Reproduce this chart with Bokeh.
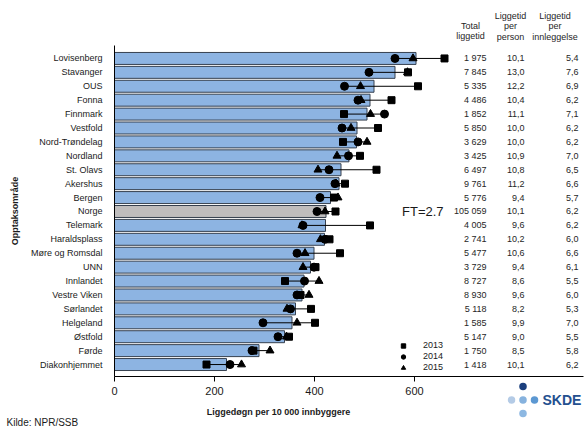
import math
from bokeh.plotting import figure
from bokeh.models import (ColumnDataSource, Range1d, FixedTicker, Label,
                          Legend, LegendItem)
from bokeh.core.properties import value
from bokeh.embed import file_html
from bokeh.resources import INLINE

# ---------------- data ----------------
areas = ["Lovisenberg", "Stavanger", "OUS", "Fonna", "Finnmark", "Vestfold",
         "Nord-Trøndelag", "Nordland", "St. Olavs", "Akershus", "Bergen",
         "Norge", "Telemark", "Haraldsplass", "Møre og Romsdal", "UNN",
         "Innlandet", "Vestre Viken", "Sørlandet", "Helgeland", "Østfold",
         "Førde", "Diakonhjemmet"]
mean_rate = [603, 561, 519, 511, 505, 485, 484, 469, 453, 449, 432, 423, 422,
             420, 399, 392, 379, 375, 362, 355, 340, 289, 224]
rate_2013 = [660, 587, 607, 554, 459, 527, 457, 491, 524, 461, 439, 442, 511,
             430, 451, 402, 341, 372, 393, 401, 349, 278, 184]
rate_2014 = [561, 509, 460, 487, 540, 455, 487, 468, 429, 441, 411, 405, 377,
             421, 365, 399, 380, 365, 352, 297, 327, 275, 231]
rate_2015 = [597, 586, 492, 493, 512, 473, 505, 445, 407, 443, 447, 421, 375,
             412, 381, 377, 409, 389, 345, 365, 344, 311, 254]
total_liggetid = [1975, 7845, 5335, 4486, 1852, 5850, 3629, 3425, 6497, 9761,
                  5776, 105059, 4005, 2741, 5477, 3729, 8727, 8930, 5118, 1585,
                  5147, 1750, 1418]
per_person = [10.1, 13.0, 12.2, 10.4, 11.1, 10.0, 10.0, 10.9, 10.8, 11.2, 9.4,
              10.1, 9.6, 10.2, 10.6, 9.4, 8.6, 9.6, 8.2, 9.9, 9.0, 8.5, 10.1]
per_innleggelse = [5.4, 7.6, 6.9, 6.2, 7.1, 6.2, 6.2, 7.0, 6.5, 6.6, 5.7, 6.2,
                   6.2, 6.0, 6.6, 6.1, 5.5, 6.0, 5.3, 7.0, 5.5, 5.8, 6.2]
years = ["2013", "2014", "2015"]
x_ticks = [0, 200, 400, 600]
ft_text = "FT=2.7"

# ---------------- layout (pixel geometry of the canvas) ----------------
W, H = 587, 433
AX_LEFT, AX_RIGHT, AX_TOP, AX_BOTTOM = 114, 583, 45, 376
n = len(areas)
ypos = [n - 1 - i for i in range(n)]
Y0, Y1 = -0.86, n - 1 + 0.93          # category band extent
KX = 0.5                               # px per data unit (x)
KY = (AX_BOTTOM - AX_TOP) / (Y1 - Y0)  # px per data unit (y)


def px2x(px):
    return (px - AX_LEFT) / KX


def py2y(py):
    return Y0 + (AX_BOTTOM - py) / KY


def fmt_int(v):
    return f"{v:,}".replace(",", " ")


def fmt_dec(v):
    return f"{v:.1f}".replace(".", ",")


FONT = "Liberation Sans"

src = ColumnDataSource(dict(
    y=ypos,
    mean=mean_rate,
    r13=rate_2013, r14=rate_2014, r15=rate_2015,
    lo=[min(a, b, c) for a, b, c in zip(rate_2013, rate_2014, rate_2015)],
    hi=[max(a, b, c) for a, b, c in zip(rate_2013, rate_2014, rate_2015)],
    color=["#BFBDBD" if a == "Norge" else "#8DB4E2" for a in areas],
    tot=[fmt_int(v) for v in total_liggetid],
    pp=[fmt_dec(v) for v in per_person],
    pi=[fmt_dec(v) for v in per_innleggelse],
))

p = figure(width=W, height=H,
           x_range=Range1d(px2x(0), px2x(W)), y_range=Range1d(py2y(H), py2y(0)),
           output_backend="svg", toolbar_location=None, title_location=None,
           min_border_left=0, min_border_right=0, min_border_top=0,
           min_border_bottom=0)
p.outline_line_color = None
p.xgrid.visible = False
p.ygrid.visible = False
p.background_fill_color = "white"

# axes (library axes, pinned at the chart's origin)
xa = p.xaxis[0]
xa.fixed_location = Y0
xa.bounds = (0, px2x(AX_RIGHT))
xa.ticker = FixedTicker(ticks=x_ticks, minor_ticks=[])
xa.major_tick_out = 5
xa.major_tick_in = 0
xa.major_tick_line_color = "black"
xa.minor_tick_line_color = None
xa.axis_line_color = "black"
xa.major_label_text_font = FONT
xa.major_label_text_font_size = "11px"
xa.major_label_text_color = "#1a1a1a"
xa.major_label_standoff = 5

ya = p.yaxis[0]
ya.fixed_location = 0
ya.bounds = (Y0, Y1)
ya.ticker = FixedTicker(ticks=ypos, minor_ticks=[])
ya.major_label_overrides = {y: a for y, a in zip(ypos, areas)}
ya.major_tick_line_color = None
ya.minor_tick_line_color = None
ya.major_tick_out = 0
ya.major_tick_in = 0
ya.major_label_standoff = 12
ya.major_label_text_font = FONT
ya.major_label_text_font_size = "9px"
ya.major_label_text_color = "#1a1a1a"
ya.axis_line_color = "black"

# bars, range lines and yearly markers
p.hbar(y="y", left=0, right="mean", height=0.86, fill_color="color",
       line_color="#36404F", line_width=1, source=src)
p.segment(x0="lo", y0="y", x1="hi", y1="y", line_color="black", line_width=1,
          source=src)
r13 = p.scatter(x="r13", y="y", marker="square", size=7, color="black", source=src)
r14 = p.scatter(x="r14", y="y", marker="circle", size=8, color="black", source=src)
r15 = p.scatter(x="r15", y="y", marker="triangle", size=8, color="black", source=src)

legend = Legend(items=[LegendItem(label=years[0], renderers=[r13]),
                       LegendItem(label=years[1], renderers=[r14]),
                       LegendItem(label=years[2], renderers=[r15])],
                location=(397, H - 372.5), glyph_width=12, glyph_height=11,
                label_height=11, spacing=0, padding=0, margin=0,
                label_standoff=14, border_line_color=None,
                background_fill_alpha=0, label_text_font=FONT,
                label_text_font_size="9px", label_text_color="#1a1a1a")
p.add_layout(legend)

# table columns
tcommon = dict(y="y", source=src, text_align="right", text_baseline="middle",
               text_font=value(FONT), text_font_size="9px", text_color="#262626")
p.text(x=px2x(486), text="tot", **tcommon)
p.text(x=px2x(524), text="pp", **tcommon)
p.text(x=px2x(578), text="pi", **tcommon)

headers = [
    (470, [(25, "Total"), (35.7, "liggetid")]),
    (510, [(15, "Liggetid"), (25, "per"), (36, "person")]),
    (554.5, [(15, "Liggetid"), (25, "per"), (36, "innleggelse")]),
]
for cx, lines in headers:
    for py, t in lines:
        p.add_layout(Label(x=px2x(cx), y=py2y(py), text=t, text_align="center",
                           text_baseline="middle", text_font=FONT,
                           text_font_size="9px", text_color="#262626"))

# FT label at Norge row
p.add_layout(Label(x=px2x(401.5), y=ypos[areas.index("Norge")], text=ft_text,
                   text_align="left", text_baseline="middle", text_font=FONT,
                   text_font_size="13px", text_color="#1a1a1a"))

# axis titles
p.add_layout(Label(x=px2x(278), y=py2y(411.5), text="Liggedøgn per 10 000 innbyggere",
                   text_align="center", text_baseline="middle", text_font=FONT,
                   text_font_size="9px", text_font_style="bold", text_color="#1a1a1a"))
p.add_layout(Label(x=px2x(14), y=(Y0 + Y1) / 2, text="Opptaksområde", angle=math.pi / 2,
                   text_align="center", text_baseline="middle", text_font=FONT,
                   text_font_size="9px", text_font_style="bold", text_color="#1a1a1a"))

# source
p.add_layout(Label(x=px2x(6), y=py2y(422), text="Kilde: NPR/SSB", text_align="left",
                   text_baseline="middle", text_font=FONT, text_font_size="10px",
                   text_color="#1a1a1a"))

# SKDE logo
logo_src = ColumnDataSource(dict(
    x=[px2x(v) for v in (522.5, 511.0, 522.5, 534.0, 522.5)],
    y=[py2y(v) for v in (386.0, 399.5, 399.5, 399.5, 413.0)],
    c=["#1B3F7D", "#B4CBE6", "#86B2DE", "#5C98D2", "#8DB8E2"],
))
p.scatter(x="x", y="y", marker="circle", size=7.5, fill_color="c", line_color=None,
          source=logo_src)
p.add_layout(Label(x=px2x(542), y=py2y(399.5), text="SKDE", text_align="left",
                   text_baseline="middle", text_font=FONT, text_font_size="14px",
                   text_font_style="bold", text_color="#24508F"))

open("out.html", "w").write(file_html(p, INLINE))
